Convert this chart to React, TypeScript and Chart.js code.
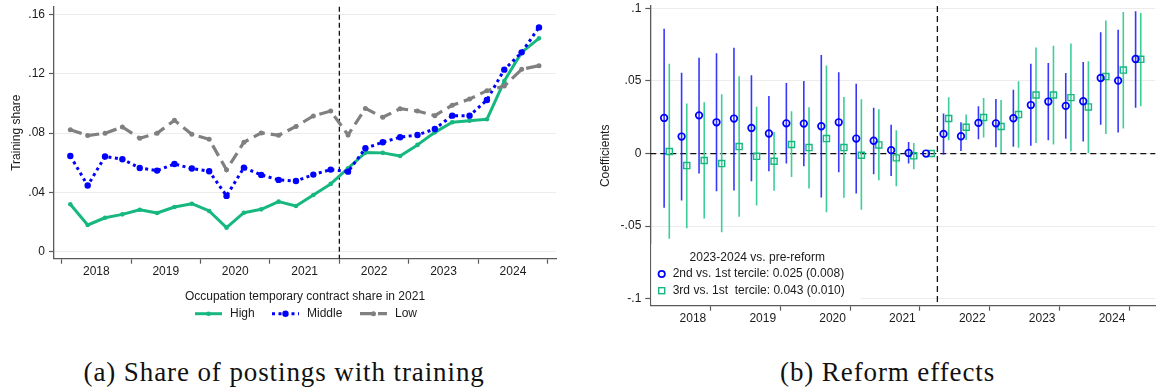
import React, { useEffect, useRef } from 'react';
import { Chart, registerables } from 'chart.js';

Chart.register(...registerables);

// Quarters 2018q1 .. 2024q4
const YEARS = [2018, 2019, 2020, 2021, 2022, 2023, 2024];
const QUARTERS = YEARS.flatMap((y) => [1, 2, 3, 4].map((q) => `${y}q${q}`));

// Share of postings with training, by occupation temporary-contract tercile
const shareHigh = [
  0.0318, 0.0178, 0.0227, 0.025, 0.0281, 0.0259, 0.03, 0.0322, 0.0273, 0.016, 0.0261, 0.0284, 0.0336, 0.0307,
  0.0381, 0.0456, 0.0562, 0.0668, 0.0666, 0.0645, 0.072, 0.0805, 0.0873, 0.0884, 0.0893, 0.1152, 0.1346, 0.1441,
];
const shareMiddle = [
  0.0645, 0.0445, 0.0641, 0.0623, 0.0564, 0.0546, 0.0591, 0.056, 0.0542, 0.0375, 0.0566, 0.0517, 0.0483, 0.0476,
  0.0519, 0.0553, 0.0539, 0.0697, 0.0738, 0.0772, 0.0787, 0.0828, 0.0918, 0.0918, 0.1024, 0.1229, 0.1346, 0.1515,
];
const shareLow = [
  0.0823, 0.0783, 0.0799, 0.0841, 0.0765, 0.0799, 0.0886, 0.0792, 0.0758, 0.0551, 0.0738, 0.0801, 0.0785, 0.0845,
  0.0916, 0.0949, 0.0787, 0.0967, 0.0907, 0.0965, 0.0949, 0.0918, 0.0988, 0.103, 0.1087, 0.1118, 0.1231, 0.1256,
];

// Reform effects relative to the 1st tercile (2021q4 is the reference quarter)
const coef2nd = [
  0.0245, 0.0117, 0.0263, 0.0215, 0.0241, 0.0176, 0.0138, 0.0208, 0.0206, 0.0188, 0.0215, 0.0103, 0.0088, 0.0023,
  0.0004, 0, 0.0135, 0.0119, 0.0211, 0.0208, 0.0243, 0.0334, 0.0358, 0.0328, 0.036, 0.052, 0.0502, 0.0651,
];
const lo2nd = [
  -0.0374, -0.0323, -0.0138, -0.0259, -0.0255, -0.0191, -0.0122, -0.0069, -0.0087, -0.0303, -0.0129, -0.0275,
  -0.0142, -0.0154, -0.0069, null, -0.0007, 0.0018, 0.0098, 0.0043, 0.0046, 0.0053, 0.0091, 0.0101, 0.0083, 0.0199,
  0.0144, 0.0316,
];
const hi2nd = [
  0.086, 0.0557, 0.066, 0.069, 0.0729, 0.0539, 0.0396, 0.0486, 0.05, 0.0678, 0.0559, 0.0481, 0.0316, 0.0199, 0.008,
  null, 0.0275, 0.0215, 0.0325, 0.0376, 0.044, 0.0619, 0.0623, 0.0554, 0.063, 0.0836, 0.0853, 0.0979,
];
const coef3rd = [
  0.0014, -0.0083, -0.0048, -0.0069, 0.0048, -0.0019, -0.0053, 0.0062, 0.0041, 0.0103, 0.0041, -0.0012, 0.0059,
  -0.003, -0.0016, 0, 0.0241, 0.0181, 0.0248, 0.0186, 0.0268, 0.0403, 0.0403, 0.0385, 0.0321, 0.053, 0.0575, 0.0649,
];
const lo3rd = [
  -0.0587, -0.0514, -0.0447, -0.0543, -0.0436, -0.0358, -0.0257, -0.0161, -0.0241, -0.0404, -0.0305, -0.0388,
  -0.0184, -0.0225, -0.0108, null, 0.0091, 0.0094, 0.011, 0.0, 0.0039, 0.0073, 0.0062, 0.0016, 0.0, 0.0135, 0.0172,
  0.0325,
];
const hi3rd = [
  0.0619, 0.0344, 0.0353, 0.0408, 0.0532, 0.0323, 0.0149, 0.0291, 0.0318, 0.0607, 0.0389, 0.0373, 0.0305, 0.016,
  0.0073, null, 0.0387, 0.0268, 0.0382, 0.0369, 0.0497, 0.0731, 0.0743, 0.0757, 0.0635, 0.0917, 0.0974, 0.0968,
];

const shareTicks = [0, 0.04, 0.08, 0.12, 0.16];
const coefTicks = [-0.1, -0.05, 0, 0.05, 0.1];
const REFORM_YEAR = 2022;
const legendTitleA = 'Occupation temporary contract share in 2021';
const legendTitleB = '2023-2024 vs. pre-reform';
const legendRowsB = ['2nd vs. 1st tercile: 0.025 (0.008)', '3rd vs. 1st  tercile: 0.043 (0.010)'];

const SANS = '"Liberation Sans", Arial, sans-serif';
const AXIS = '#5a5a5a';
const GRID = '#ececec';
const TEXT = '#1a1a1a';
const GREEN = '#17b87f';
const GREEN_CI = '#3ccf98';
const BLUE = '#0000ff';
const BLUE_CI = 'rgba(20,20,255,0.85)';
const GREY = '#808080';
const DODGE = 0.037;

const quarterX = (label: string) => {
  const [y, q] = label.split('q').map(Number);
  return y + (q - 0.5) / 4;
};

// year boundaries carry tick marks, mid-year positions carry the labels
const yearTicks: number[] = [];
for (let y = 2018; y <= 2025; y++) {
  yearTicks.push(y);
  if (y < 2025) yearTicks.push(y + 0.5);
}

const stataFmt = (v: number) => (v === 0 ? '0' : String(+v.toFixed(3)).replace('0.', '.'));

function xScale(height: number) {
  return {
    type: 'linear' as const,
    min: 2017.89,
    max: 2025.12,
    afterBuildTicks: (s: any) => {
      s.ticks = yearTicks.map((v) => ({ value: v }));
    },
    afterFit: (s: any) => {
      s.height = height;
      s.paddingLeft = 0;
      s.paddingRight = 0;
    },
    grid: {
      drawOnChartArea: false,
      drawTicks: true,
      tickLength: 5,
      tickWidth: 1.2,
      tickColor: (ctx: any) => (Number.isInteger(ctx.tick?.value) ? AXIS : 'rgba(0,0,0,0)'),
    },
    border: { display: true, color: AXIS, width: 1.3 },
    ticks: {
      autoSkip: false,
      maxRotation: 0,
      padding: 1,
      color: TEXT,
      font: { family: SANS, size: 12 },
      callback: (v: any) => (Number.isInteger(v) ? '' : String(Math.floor(v))),
    },
  };
}

function yScale(min: number, max: number, ticks: number[], width: number, title: string, titlePad: number) {
  return {
    type: 'linear' as const,
    min,
    max,
    afterBuildTicks: (s: any) => {
      s.ticks = ticks.map((v) => ({ value: v }));
    },
    afterFit: (s: any) => {
      s.width = width;
      s.paddingTop = 0;
      s.paddingBottom = 0;
    },
    grid: { color: GRID, lineWidth: 1, tickColor: AXIS, tickLength: 5, tickWidth: 1.2 },
    border: { display: true, color: AXIS, width: 1.3 },
    ticks: {
      padding: 4,
      color: TEXT,
      font: { family: SANS, size: 12 },
      callback: (v: any) => stataFmt(Number(v)),
    },
    title: {
      display: true,
      text: title,
      color: TEXT,
      font: { family: SANS, size: 12 },
      padding: { top: titlePad, bottom: 0 },
    },
  };
}

function drawDashed(ctx: CanvasRenderingContext2D, x1: number, y1: number, x2: number, y2: number, dash: number[]) {
  ctx.save();
  ctx.strokeStyle = '#111';
  ctx.lineWidth = 1.3;
  ctx.setLineDash(dash);
  ctx.beginPath();
  ctx.moveTo(x1, y1);
  ctx.lineTo(x2, y2);
  ctx.stroke();
  ctx.restore();
}

function SharePanel() {
  const ref = useRef<HTMLCanvasElement>(null);
  useEffect(() => {
    const xs = QUARTERS.map(quarterX);
    const pts = (vals: number[]) => vals.map((v, i) => ({ x: xs[i], y: v }));

    const reformLine = {
      id: 'reformLineA',
      beforeDatasetsDraw(chart: any) {
        const { ctx, chartArea, scales } = chart;
        const x = scales.x.getPixelForValue(REFORM_YEAR);
        drawDashed(ctx, x, chartArea.top, x, chartArea.bottom, [5, 3]);
      },
    };

    const legendA = {
      id: 'legendA',
      afterDraw(chart: any) {
        const { ctx, chartArea } = chart;
        ctx.save();
        ctx.font = `12px ${SANS}`;
        ctx.fillStyle = TEXT;
        ctx.textBaseline = 'middle';
        ctx.textAlign = 'center';
        ctx.fillText(legendTitleA, (chartArea.left + chartArea.right) / 2, 296.7);
        const rowY = 313.7;
        const starts = [195, 272, 360];
        chart.data.datasets.forEach((ds: any, i: number) => {
          const x0 = starts[i];
          ctx.save();
          ctx.strokeStyle = ds.borderColor;
          ctx.lineWidth = ds.borderWidth;
          ctx.setLineDash(ds.borderDash || []);
          ctx.beginPath();
          ctx.moveTo(x0, rowY);
          ctx.lineTo(x0 + 27, rowY);
          ctx.stroke();
          ctx.restore();
          ctx.fillStyle = ds.borderColor;
          ctx.beginPath();
          ctx.arc(x0 + 13.5, rowY, ds.pointRadius, 0, Math.PI * 2);
          ctx.fill();
          ctx.fillStyle = TEXT;
          ctx.textAlign = 'left';
          ctx.fillText(ds.label, x0 + 35, rowY);
        });
        ctx.restore();
      },
    };

    const chart = new Chart(ref.current as HTMLCanvasElement, {
      type: 'scatter',
      data: {
        datasets: [
          {
            label: 'High',
            data: pts(shareHigh),
            showLine: true,
            borderColor: GREEN,
            backgroundColor: GREEN,
            borderWidth: 3,
            borderJoinStyle: 'round',
            pointRadius: 2.3,
            pointBorderWidth: 0,
            pointBackgroundColor: GREEN,
            order: 2,
          },
          {
            label: 'Middle',
            data: pts(shareMiddle),
            showLine: true,
            borderColor: BLUE,
            backgroundColor: BLUE,
            borderWidth: 3,
            borderDash: [3, 3.5],
            pointRadius: 3.2,
            pointBorderWidth: 0,
            pointBackgroundColor: BLUE,
            order: 1,
          },
          {
            label: 'Low',
            data: pts(shareLow),
            showLine: true,
            borderColor: GREY,
            backgroundColor: GREY,
            borderWidth: 3.2,
            borderDash: [12, 6],
            pointRadius: 2.5,
            pointBorderWidth: 0,
            pointBackgroundColor: GREY,
            order: 0,
          },
        ] as any,
      },
      options: {
        animation: false,
        responsive: false,
        devicePixelRatio: 1,
        layout: { padding: { top: 6.7, right: 2.3, left: 0, bottom: 0 } },
        plugins: { legend: { display: false }, tooltip: { enabled: false } },
        scales: {
          x: xScale(71.3),
          y: yScale(-0.005, 0.1655, shareTicks, 54, 'Training share', 9.8),
        } as any,
      },
      plugins: [reformLine, legendA],
    });
    return () => chart.destroy();
  }, []);
  return (
    <canvas
      ref={ref}
      width={560}
      height={330}
      style={{ position: 'absolute', left: 0, top: 0, width: 560, height: 330 }}
    />
  );
}

function EffectsPanel() {
  const ref = useRef<HTMLCanvasElement>(null);
  useEffect(() => {
    const xs = QUARTERS.map(quarterX);
    const bars = (lo: (number | null)[], hi: (number | null)[], shift: number) =>
      xs
        .map((x, i) => (lo[i] === null || hi[i] === null ? null : { x: x + shift, y: [lo[i], hi[i]] }))
        .filter(Boolean);

    const refLines = {
      id: 'refLinesB',
      beforeDatasetsDraw(chart: any) {
        const { ctx, chartArea, scales } = chart;
        const y0 = scales.y.getPixelForValue(0);
        drawDashed(ctx, chartArea.left, y0, chartArea.right, y0, [6, 4]);
        const x = scales.x.getPixelForValue(REFORM_YEAR);
        drawDashed(ctx, x, chartArea.top, x, chartArea.bottom, [6, 4]);
      },
    };

    const legendB = {
      id: 'legendB',
      afterDatasetsDraw(chart: any) {
        const { ctx, chartArea } = chart;
        ctx.save();
        ctx.fillStyle = '#ffffff';
        ctx.fillRect(chartArea.left + 1, 244, 281 - chartArea.left - 1, chartArea.bottom - 245);
        ctx.font = `12px ${SANS}`;
        ctx.fillStyle = TEXT;
        ctx.textBaseline = 'middle';
        ctx.textAlign = 'center';
        ctx.fillText(legendTitleB, 177.3, 257.3);
        ctx.textAlign = 'left';
        const rows = [274, 290.7];
        // circle key
        ctx.strokeStyle = BLUE;
        ctx.lineWidth = 1.7;
        ctx.beginPath();
        ctx.arc(81.7, rows[0], 3.2, 0, Math.PI * 2);
        ctx.stroke();
        // square key
        ctx.strokeStyle = GREEN;
        ctx.lineWidth = 1.4;
        ctx.strokeRect(81.7 - 3, rows[1] - 3, 6, 6);
        ctx.fillStyle = TEXT;
        ctx.fillText(legendRowsB[0], 92.7, rows[0]);
        ctx.fillText(legendRowsB[1], 92.7, rows[1]);
        ctx.restore();
      },
    };

    const chart = new Chart(ref.current as HTMLCanvasElement, {
      type: 'scatter',
      data: {
        datasets: [
          {
            type: 'scatter',
            label: '2nd vs. 1st tercile',
            data: coef2nd.map((v, i) => ({ x: xs[i] - DODGE, y: v })),
            pointStyle: 'circle',
            pointRadius: 3.3,
            pointBorderWidth: 1.7,
            pointBorderColor: BLUE,
            pointBackgroundColor: 'rgba(0,0,0,0)',
            order: 0,
          },
          {
            type: 'scatter',
            label: '3rd vs. 1st tercile',
            data: coef3rd.map((v, i) => ({ x: xs[i] + DODGE, y: v })),
            pointStyle: 'rect',
            pointRadius: 4.3,
            pointBorderWidth: 1.4,
            pointBorderColor: GREEN,
            pointBackgroundColor: 'rgba(0,0,0,0)',
            order: 0,
          },
          {
            type: 'bar',
            label: 'CI 2nd',
            data: bars(lo2nd, hi2nd, -DODGE),
            backgroundColor: BLUE_CI,
            borderWidth: 0,
            grouped: false,
            maxBarThickness: 1.6,
            order: 1,
          },
          {
            type: 'bar',
            label: 'CI 3rd',
            data: bars(lo3rd, hi3rd, DODGE),
            backgroundColor: GREEN_CI,
            borderWidth: 0,
            grouped: false,
            maxBarThickness: 1.6,
            order: 1,
          },
        ] as any,
      },
      options: {
        animation: false,
        responsive: false,
        devicePixelRatio: 1,
        layout: { padding: { top: 6, right: 0, left: 0, bottom: 0 } },
        plugins: { legend: { display: false }, tooltip: { enabled: false } },
        scales: {
          x: { ...xScale(24.3), offset: false },
          y: yScale(-0.1048, 0.1016, coefTicks, 70.3, 'Coefficients', 18.3),
        } as any,
      },
      plugins: [refLines, legendB],
    });
    return () => chart.destroy();
  }, []);
  return (
    <canvas
      ref={ref}
      width={581}
      height={330}
      style={{ position: 'absolute', left: 580, top: 0, width: 581, height: 330 }}
    />
  );
}

const captionStyle: React.CSSProperties = {
  position: 'absolute',
  top: 355,
  fontFamily: '"Liberation Serif", "Times New Roman", serif',
  fontSize: 27,
  lineHeight: '34px',
  letterSpacing: 0.9,
  color: '#111',
  textAlign: 'center',
  whiteSpace: 'pre',
};

export default function App() {
  return (
    <div
      style={{
        position: 'absolute',
        left: 0,
        top: 0,
        width: 1161,
        height: 390,
        background: '#ffffff',
        overflow: 'hidden',
      }}
    >
      <SharePanel />
      <EffectsPanel />
      <div style={{ ...captionStyle, left: 83.5, width: 400 }}>(a) Share of postings with training</div>
      <div style={{ ...captionStyle, left: 780, width: 200 }}>(b) Reform effects</div>
    </div>
  );
}
